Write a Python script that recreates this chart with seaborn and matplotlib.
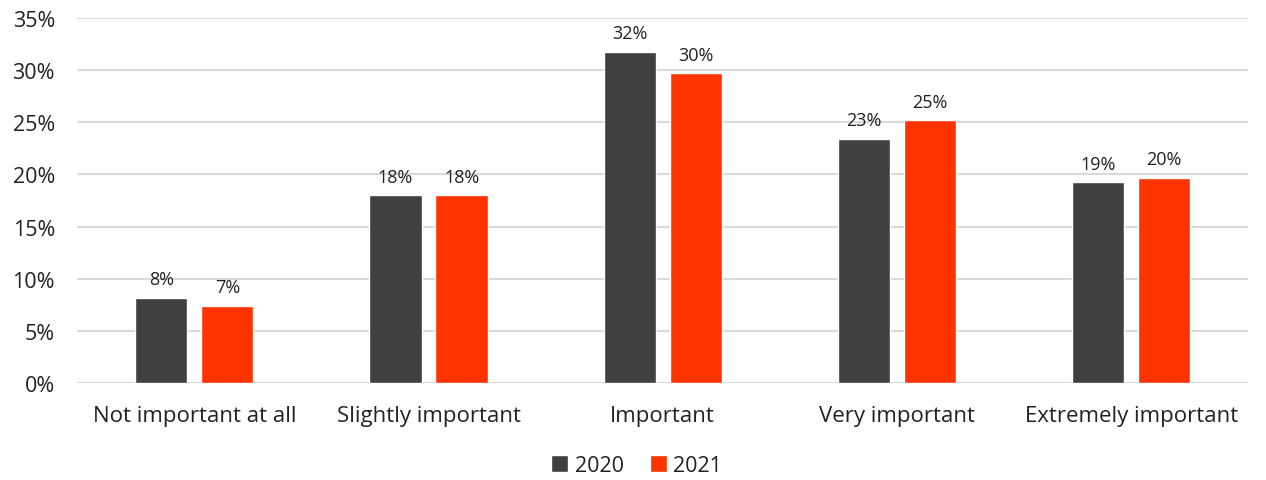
import matplotlib
matplotlib.use("Agg")
import matplotlib.pyplot as plt
from matplotlib.ticker import PercentFormatter
import seaborn as sns
import pandas as pd

categories = ["Not important at all", "Slightly important", "Important",
              "Very important", "Extremely important"]
values_2020 = [8.15, 18.0, 31.75, 23.4, 19.25]
values_2021 = [7.42, 18.0, 29.7, 25.2, 19.7]
years = ["2020", "2021"]
colors = {"2020": "#404040", "2021": "#FF3300"}
y_ticks = [0, 5, 10, 15, 20, 25, 30, 35]

df = pd.DataFrame({
    "category": categories * 2,
    "value": values_2020 + values_2021,
    "year": [years[0]] * len(categories) + [years[1]] * len(categories),
})

sns.set_theme(style="white")
plt.rcParams["font.family"] = ["Open Sans", "DejaVu Sans"]

fig = plt.figure(figsize=(12.66, 4.81), dpi=100)
ax = fig.add_axes([0.061, 0.202, 0.925, 0.758])

sns.barplot(data=df, x="category", y="value", hue="year", order=categories,
            hue_order=years, palette=colors, width=0.564, gap=0.21,
            saturation=1, ax=ax, legend=True)

for container in ax.containers:
    ax.bar_label(container, labels=[f"{v:.0f}%" for v in container.datavalues],
                 padding=7, fontsize=13, color="#222222")

ax.set_ylim(0, 35)
ax.set_yticks(y_ticks)
ax.yaxis.set_major_formatter(PercentFormatter(decimals=0))
ax.set_xlim(-0.5, len(categories) - 0.5)
ax.grid(axis="y", color="#d9d9d9", linewidth=1.5)
ax.set_axisbelow(True)
for side in ["top", "right", "left", "bottom"]:
    ax.spines[side].set_visible(False)
ax.set_xlabel("")
ax.set_ylabel("")
ax.tick_params(axis="y", labelsize=15.5, colors="#222222", pad=16, length=0)
ax.tick_params(axis="x", labelsize=16, colors="#222222", pad=16, length=0)

handles, labels = ax.get_legend_handles_labels()
ax.get_legend().remove()
fig.legend(handles, labels, loc="center", bbox_to_anchor=(0.503, 0.03),
           ncol=2, frameon=False, fontsize=15.5, handlelength=0.8, handleheight=0.8,
           handletextpad=0.3, columnspacing=1.2, labelcolor="#222222",
           borderpad=0)

fig.savefig("out.png", dpi=100)
